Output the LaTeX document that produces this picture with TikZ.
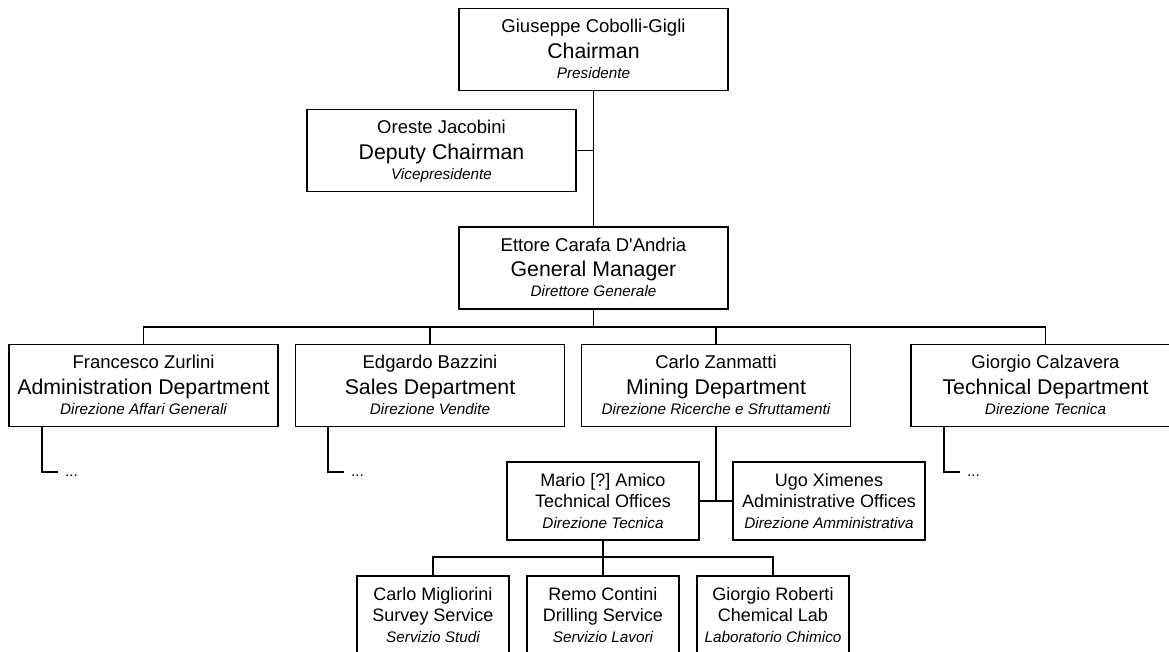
\documentclass[tikz,border=0pt]{standalone}
\usepackage{fontspec}
\setmainfont{Liberation Sans}[Ligatures=TeXOff]
\frenchspacing
\newcommand\bigtxt[3]{\vbox{\offinterlineskip\halign{\hfil##\hfil\cr
 \vrule height17pt depth5pt width0pt\fontsize{18.5}{18}\selectfont #1\cr
 \vrule height20.6pt depth5pt width0pt\fontsize{21.3}{21}\selectfont #2\cr
 \vrule height15pt depth5pt width0pt\fontsize{15.3}{15}\selectfont\itshape #3\cr}}}
\newcommand\smalltxt[3]{\vbox{\offinterlineskip\halign{\hfil##\hfil\cr
 \vrule height17pt depth5pt width0pt\fontsize{18}{18}\selectfont #1\cr
 \vrule height16pt depth5pt width0pt\fontsize{18}{18}\selectfont #2\cr
 \vrule height16pt depth5pt width0pt\fontsize{15.3}{15}\selectfont\itshape #3\cr}}}
\begin{document}
\begin{tikzpicture}[x=1pt,y=-1pt,
  bigbox/.style={draw=black,line width=1.4pt,rectangle,inner sep=0pt,minimum width=269pt,minimum height=82pt},
  smallbox/.style={draw=black,line width=1.4pt,rectangle,inner sep=0pt,minimum width=192pt,minimum height=78pt},
  svcbox/.style={draw=black,line width=1.4pt,rectangle,inner sep=0pt,minimum width=152pt,minimum height=78pt},
  conn/.style={draw=black,line width=1.4pt},
  dotstxt/.style={inner sep=0pt,anchor=base west,font=\fontsize{15.3}{15}\selectfont}]
\useasboundingbox (0,0) rectangle (1169,652);
\clip (0,0) rectangle (1169,652);
\fill[white] (0,0) rectangle (1169,652);
% top
\node[bigbox] (ch) at (593.5,49.5) {\bigtxt{Giuseppe Cobolli-Gigli}{Chairman}{Presidente}};
\node[bigbox] (dep) at (441.5,150.5) {\bigtxt{Oreste Jacobini}{Deputy Chairman}{Vicepresidente}};
\node[bigbox] (gm) at (593.5,268) {\bigtxt{Ettore Carafa D'Andria}{General Manager}{Direttore Generale}};
% departments
\node[bigbox] (adm) at (143.5,385.5) {\bigtxt{Francesco Zurlini}{Administration Department}{Direzione Affari Generali}};
\node[bigbox] (sal) at (430,385.5) {\bigtxt{Edgardo Bazzini}{Sales Department}{Direzione Vendite}};
\node[bigbox] (mng) at (716,385.5) {\bigtxt{Carlo Zanmatti}{Mining Department}{Direzione Ricerche e Sfruttamenti}};
\node[bigbox] (tec) at (1045.5,385.5) {\bigtxt{Giorgio Calzavera}{Technical Department}{Direzione Tecnica}};
% offices
\node[smallbox] (tof) at (603,501) {\smalltxt{Mario [?] Amico}{Technical Offices}{Direzione Tecnica}};
\node[smallbox] (aof) at (829,501) {\smalltxt{Ugo Ximenes}{Administrative Offices}{Direzione Amministrativa}};
% services
\node[svcbox] (s1) at (433,615) {\smalltxt{Carlo Migliorini}{Survey Service}{Servizio Studi}};
\node[svcbox] (s2) at (603,615) {\smalltxt{Remo Contini}{Drilling Service}{Servizio Lavori}};
\node[svcbox] (s3) at (773,615) {\smalltxt{Giorgio Roberti}{Chemical Lab}{Laboratorio Chimico}};
% connectors top
\draw[conn] (ch.south) -- (gm.north);
\draw[conn] (dep.east) -- (dep.east -| ch.south);
\coordinate (bus) at (0,327);
\draw[conn] (gm.south) -- (gm.south |- bus);
\draw[conn] (adm.north) -- (adm.north |- bus) -- (tec.north |- bus) -- (tec.north);
\draw[conn] (sal.north) -- (sal.north |- bus);
\draw[conn] (mng.north) -- (mng.north |- bus);
% sub-lines with dots
\coordinate (e1) at (58,472);
\coordinate (e2) at (344,472);
\coordinate (e3) at (960,472);
\draw[conn] (adm.south -| 42,0) |- (e1);
\draw[conn] (sal.south -| 328,0) |- (e2);
\draw[conn] (tec.south -| 944,0) |- (e3);
\node[dotstxt] (d1) at (65,476.5) {...};
\node[dotstxt] (d2) at (351,476.5) {...};
\node[dotstxt] (d3) at (967,476.5) {...};
% mining to offices
\draw[conn] (mng.south) -- (mng.south |- tof.east);
\draw[conn] (tof.east) -- (aof.west);
% offices to services
\coordinate (bus2) at (0,557);
\draw[conn] (tof.south) -- (tof.south |- bus2);
\draw[conn] (s1.north) -- (s1.north |- bus2) -- (s3.north |- bus2) -- (s3.north);
\draw[conn] (s2.north) -- (s2.north |- bus2);
\end{tikzpicture}
\end{document}
